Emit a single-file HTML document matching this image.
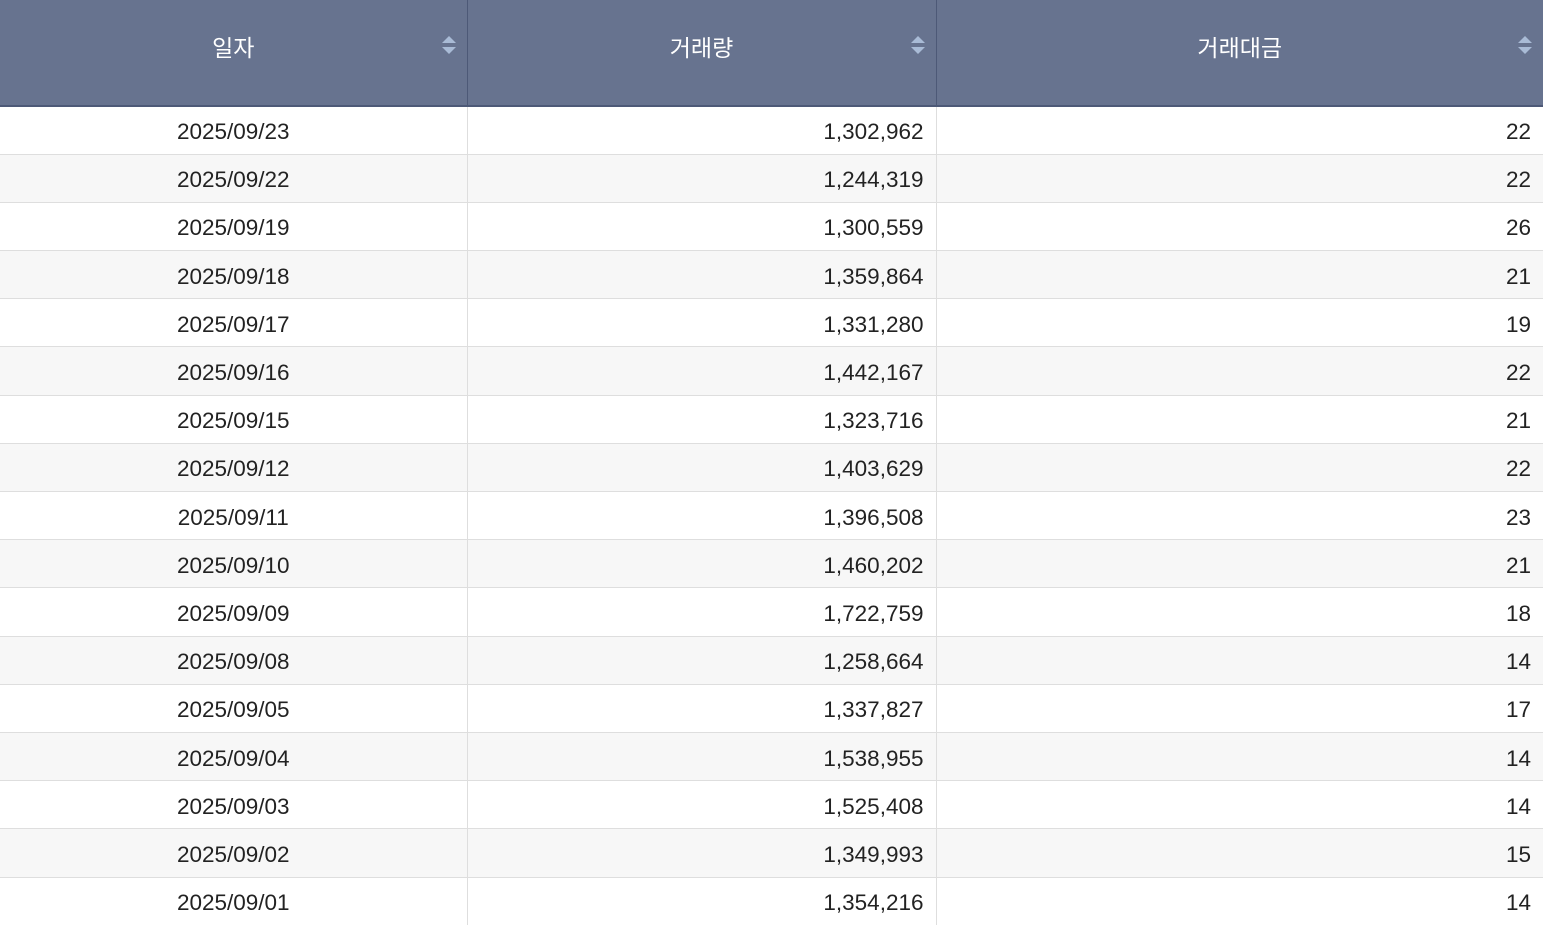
<!DOCTYPE html>
<html><head><meta charset="utf-8"><style>
html,body{margin:0;padding:0;width:1543px;height:925px;overflow:hidden;background:#fff;font-family:"Liberation Sans","Noto Sans CJK KR",sans-serif;}
table{border-collapse:collapse;table-layout:fixed;width:1543px;}
th{background:#67738f;color:#fff;font-weight:normal;font-size:23px;height:106px;border-right:1px solid #4d5977;border-bottom:2px solid #4d5977;position:relative;padding:0 0 14px 0;box-sizing:border-box;}
th:last-child{border-right:none;}
th .s{position:absolute;right:11px;top:36px;width:14px;height:18px;}
th .s:before{content:"";position:absolute;left:0;top:0;border-left:7px solid transparent;border-right:7px solid transparent;border-bottom:7px solid #a9bbd6;}
th .s:after{content:"";position:absolute;left:0;top:11px;border-left:7px solid transparent;border-right:7px solid transparent;border-top:7px solid #a9bbd6;}
td{height:48.2px;border-bottom:1px solid #dedede;border-right:1px solid #dedede;font-size:22.5px;color:#222;padding:4px 12px 0 12px;box-sizing:border-box;}
td:last-child{border-right:none;}
td:first-child{text-align:center;}
td:not(:first-child){text-align:right;}
tr:nth-child(even) td{background:#f7f7f7;}
</style></head><body>
<table>
<colgroup><col style="width:467px"><col style="width:469px"><col style="width:607px"></colgroup>
<thead><tr><th>일자<span class="s"></span></th><th>거래량<span class="s"></span></th><th>거래대금<span class="s"></span></th></tr></thead>
<tbody>
<tr><td>2025/09/23</td><td>1,302,962</td><td>22</td></tr>
<tr><td>2025/09/22</td><td>1,244,319</td><td>22</td></tr>
<tr><td>2025/09/19</td><td>1,300,559</td><td>26</td></tr>
<tr><td>2025/09/18</td><td>1,359,864</td><td>21</td></tr>
<tr><td>2025/09/17</td><td>1,331,280</td><td>19</td></tr>
<tr><td>2025/09/16</td><td>1,442,167</td><td>22</td></tr>
<tr><td>2025/09/15</td><td>1,323,716</td><td>21</td></tr>
<tr><td>2025/09/12</td><td>1,403,629</td><td>22</td></tr>
<tr><td>2025/09/11</td><td>1,396,508</td><td>23</td></tr>
<tr><td>2025/09/10</td><td>1,460,202</td><td>21</td></tr>
<tr><td>2025/09/09</td><td>1,722,759</td><td>18</td></tr>
<tr><td>2025/09/08</td><td>1,258,664</td><td>14</td></tr>
<tr><td>2025/09/05</td><td>1,337,827</td><td>17</td></tr>
<tr><td>2025/09/04</td><td>1,538,955</td><td>14</td></tr>
<tr><td>2025/09/03</td><td>1,525,408</td><td>14</td></tr>
<tr><td>2025/09/02</td><td>1,349,993</td><td>15</td></tr>
<tr><td>2025/09/01</td><td>1,354,216</td><td>14</td></tr>
</tbody></table>
</body></html>
